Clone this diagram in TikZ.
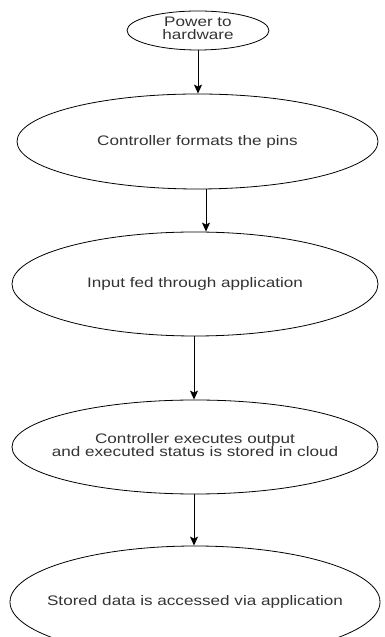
\documentclass[tikz,border=0pt]{standalone}
\usepackage{fontspec}
\setmainfont{Liberation Sans}
\usepackage{graphicx}
\usetikzlibrary{shapes.geometric,arrows.meta}
\definecolor{txtgray}{HTML}{333333}
\newcommand\wtext[1]{\makebox[0pt][c]{\scalebox{1.24}[1]{#1}}}
\tikzset{
  stepell/.style={ellipse, draw=black, line width=0.8pt, inner sep=0pt,
    text=txtgray, font=\fontsize{13.8}{14}\selectfont, align=center},
  arr/.style={draw=black, line width=0.9pt, -{Stealth[length=9pt,width=8pt,inset=2pt]}}
}
\begin{document}
\begin{tikzpicture}[x=1pt,y=1pt]
\useasboundingbox (0,0) rectangle (384,637);
\node[stepell, minimum width=142pt, minimum height=39pt] (e1) at (198,606.5)
  {\wtext{\begin{tabular}{@{}c@{}}Power to\\[-1pt]hardware\end{tabular}}};
\node[stepell, minimum width=361pt, minimum height=95pt] (e2) at (197.5,495.5)
  {\wtext{Controller formats the pins}};
\node[stepell, minimum width=366pt, minimum height=104pt] (e3) at (195,353)
  {\wtext{Input fed through application}};
\node[stepell, minimum width=366pt, minimum height=94pt] (e4) at (195,190)
  {\wtext{\begin{tabular}{@{}c@{}}Controller executes output\\[-1pt]and executed status is stored in cloud\end{tabular}}};
\node[stepell, minimum width=370pt, minimum height=112pt] (e5) at (195,35)
  {\wtext{Stored data is accessed via application}};
\draw[arr] (e1.south) -- (e2.north -| e1.south);
\draw[arr] (e2.south -| 206,0) -- (e3.north -| 206,0);
\draw[arr] (e3.south -| 194,0) -- (e4.north -| 194,0);
\draw[arr] (e4.south -| 194,0) -- (e5.north -| 194,0);
\end{tikzpicture}
\end{document}
